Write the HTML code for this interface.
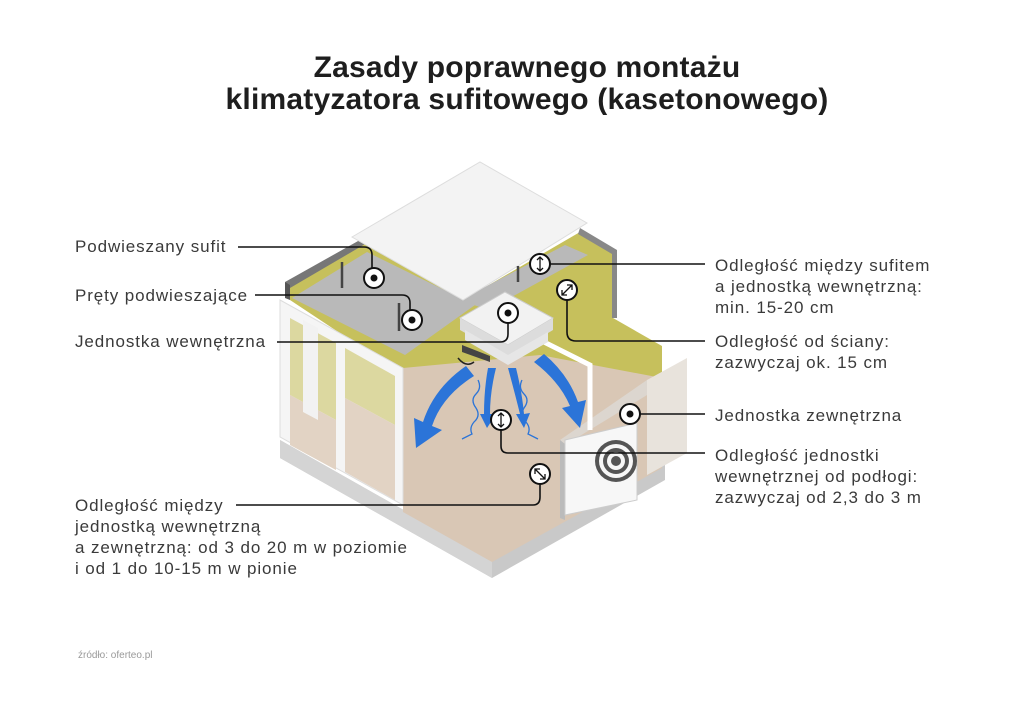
<!DOCTYPE html>
<html><head><meta charset="utf-8"><style>
html,body{margin:0;padding:0;background:#fff;}
body{width:1024px;height:701px;position:relative;overflow:hidden;font-family:"Liberation Sans",sans-serif;}
.t{position:absolute;left:15px;width:1024px;text-align:center;font-weight:bold;font-size:30px;color:#1e1e1e;letter-spacing:0.2px;}
.l{position:absolute;font-size:17px;color:#3a3a3a;line-height:21px;white-space:nowrap;letter-spacing:0.9px;}
</style></head><body>
<svg width="1024" height="701" style="position:absolute;left:0;top:0">
<polygon points="280,440 492,560 665,462 665,480 492,578 280,458" fill="#c9c9c9"/>
<polygon points="280,440 492,560 492,578 280,458" fill="#d4d4d4"/>
<polygon points="290,285 367,240 470,296 580,232 613,252 613,318 662,346 662,380 403,375 290,300" fill="#c6c05c"/>
<polygon points="285,282 367,236 372,240 290,288" fill="#777"/>
<polygon points="285,282 290,285 290,300 285,298" fill="#555"/>
<polygon points="580,228 617,250 617,318 612,318 612,254 578,234" fill="#888"/>
<polygon points="292,298 367,252 475,305 405,355" fill="#b9b9b9"/>
<polygon points="460,300 565,245 588,255 488,310" fill="#b9b9b9"/>
<polygon points="403,368 540,355 662,378 662,468 492,562 403,512" fill="#d9c7b5"/>
<polygon points="352,237 480,162 587,223 463,300" fill="#f3f3f3" stroke="#ddd" stroke-width="1"/>
<line x1="342" y1="262" x2="342" y2="288" stroke="#444" stroke-width="2.5"/>
<line x1="399" y1="303" x2="399" y2="331" stroke="#444" stroke-width="2.5"/>
<line x1="518" y1="266" x2="518" y2="282" stroke="#444" stroke-width="2.5"/>
<polygon points="280,300 403,368 403,505 280,437" fill="#f5f5f5" stroke="#ddd"/>
<polygon points="290,318 336,343 336,420 290,395" fill="#dcd8a0"/>
<polygon points="290,395 336,420 336,470 290,445" fill="#e2d3c4"/>
<polygon points="345,348 395,376 395,425 345,398" fill="#dcd8a0"/>
<polygon points="345,398 395,425 395,500 345,472" fill="#e2d3c4"/>
<polygon points="303,320 318,328 318,420 303,412" fill="#f2f2f2"/>
<polygon points="647,380 687,358 687,453 647,475" fill="#e8e3dc"/>
<polygon points="560,440 647,380 647,395 565,445" fill="#dcd6cf"/>
<polygon points="560,440 565,444 565,520 560,518" fill="#bbb"/>
<polygon points="565,440 637,423 637,500 565,515" fill="#f7f7f7" stroke="#ccc"/>
<circle cx="616" cy="461" r="21" fill="#555"/>
<circle cx="616" cy="461" r="17" fill="#f7f7f7"/>
<circle cx="616" cy="461" r="13" fill="#555"/>
<circle cx="616" cy="461" r="9" fill="#f7f7f7"/>
<circle cx="616" cy="461" r="5" fill="#555"/>
<path d="M540,340 L590,365 L590,430" fill="none" stroke="#fff" stroke-width="5"/>
<polygon points="460,318 505,292 553,318 508,345" fill="#f2f2f2" stroke="#ccc"/>
<polygon points="460,318 508,345 553,318 553,330 508,357 460,330" fill="#dcdcdc"/>
<polygon points="465,330 508,355 548,332 548,342 508,365 465,340" fill="#e6e6e6"/>
<polygon points="462,345 490,356 490,362 462,352" fill="#444"/>
<g fill="#2b74d8">
<path d="M466,366 L474,376 Q442,396 432,426 L442,430 L416,448 L414,418 L423,422 Q434,388 466,366 Z"/>
<path d="M488,368 L496,368 Q490,392 490,414 L496,414 L487,428 L480,414 L484,414 Q484,390 488,368 Z"/>
<path d="M508,368 L516,368 Q522,392 524,414 L530,413 L524,428 L516,414 L520,414 Q514,390 508,368 Z"/>
<path d="M534,362 L544,354 Q568,374 578,402 L586,400 L580,428 L562,408 L570,406 Q560,382 534,362 Z"/>
</g>
<g fill="none" stroke="#2b74d8" stroke-width="1.3">
<path d="M478,380 q4,8 -2,14 q-6,6 0,14 q5,8 -2,14 q-5,6 -2,12 l-10,5"/>
<path d="M522,380 q-4,8 2,14 q6,6 0,14 q-5,8 2,14 q5,6 2,12 l10,5"/>
</g>
<path d="M458,358 q8,10 16,4" fill="none" stroke="#222" stroke-width="1.5"/>
<g fill="none" stroke="#111" stroke-width="1.6">
<path d="M238,247 H364 Q372,247 372,255 V268"/>
<path d="M255,295 H402 Q410,295 410,303 V310"/>
<path d="M277,342 H500 Q508,342 508,334 V323"/>
<path d="M550,264 H705"/>
<path d="M567,300 V332 Q567,341 576,341 H705"/>
<path d="M640,414 H705"/>
<path d="M501,430 V446 Q501,453 508,453 H705"/>
<path d="M236,505 H533 Q540,505 540,497 V484"/>
</g>
<g fill="#fff" stroke="#111" stroke-width="2">
<circle cx="374" cy="278" r="10"/><circle cx="412" cy="320" r="10"/><circle cx="508" cy="313" r="10"/>
<circle cx="540" cy="264" r="10"/><circle cx="567" cy="290" r="10"/><circle cx="630" cy="414" r="10"/>
<circle cx="501" cy="420" r="10"/><circle cx="540" cy="474" r="10"/>
</g>
<g fill="#111"><circle cx="374" cy="278" r="3.5"/><circle cx="412" cy="320" r="3.5"/><circle cx="508" cy="313" r="3.5"/><circle cx="630" cy="414" r="3.5"/></g>
<g stroke="#111" stroke-width="1.3" fill="none">
<path d="M540,257 V271 M537,260 L540,257 L543,260 M537,268 L540,271 L543,268"/>
<path d="M501,413 V427 M498,416 L501,413 L504,416 M498,424 L501,427 L504,424"/>
<path d="M562,295 L572,285 M567,285 H572 V290 M562,290 V295 H567"/>
<path d="M535,469 L545,479 M535,474 V469 H540 M545,474 V479 H540"/>
</g>
</svg>
<div class="t" style="top:51px">Zasady poprawnego montażu</div>
<div class="t" style="top:83px">klimatyzatora sufitowego (kasetonowego)</div>
<div class="l" style="left:75px;top:236px">Podwieszany sufit</div>
<div class="l" style="left:75px;top:285px">Pręty podwieszające</div>
<div class="l" style="left:75px;top:331px">Jednostka wewnętrzna</div>
<div class="l" style="left:75px;top:495px">Odległość między<br>jednostką wewnętrzną<br>a zewnętrzną: od 3 do 20 m w poziomie<br>i od 1 do 10-15 m w pionie</div>
<div class="l" style="left:715px;top:255px">Odległość między sufitem<br>a jednostką wewnętrzną:<br>min. 15-20 cm</div>
<div class="l" style="left:715px;top:331px">Odległość od ściany:<br>zazwyczaj ok. 15 cm</div>
<div class="l" style="left:715px;top:405px">Jednostka zewnętrzna</div>
<div class="l" style="left:715px;top:445px">Odległość jednostki<br>wewnętrznej od podłogi:<br>zazwyczaj od 2,3 do 3 m</div>
<div class="l" style="left:78px;top:645px;font-size:10px;color:#999;letter-spacing:0">źródło: oferteo.pl</div>
</body></html>
